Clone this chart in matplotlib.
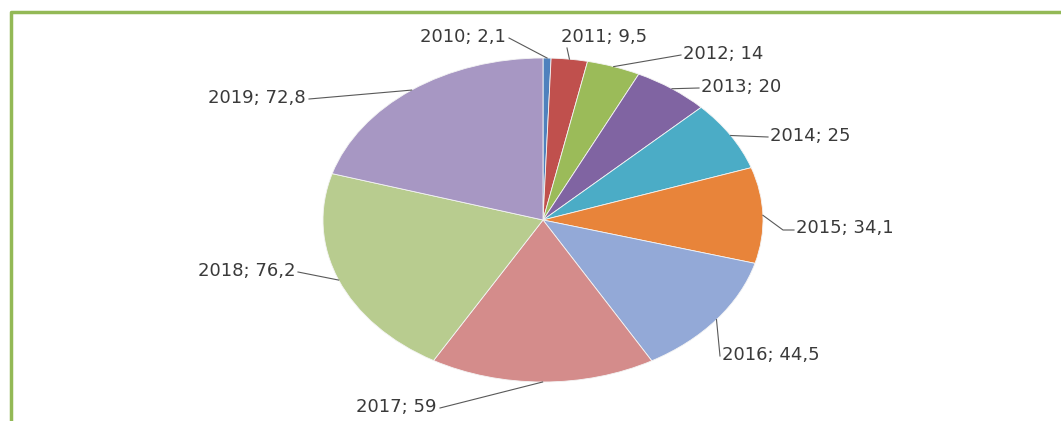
# pie of yearly values, 2010..2019, excel-style oval pie with leader-line labels

import numpy as np
import matplotlib.pyplot as plt
from matplotlib.lines import Line2D

years = ["2010", "2011", "2012", "2013", "2014", "2015", "2016", "2017", "2018", "2019"]
values = [2.1, 9.5, 14, 20, 25, 34.1, 44.5, 59, 76.2, 72.8]
value_text = ["2,1", "9,5", "14", "20", "25", "34,1", "44,5", "59", "76,2", "72,8"]

colors = ["#4f81bd", "#c0504d", "#9bbb59", "#8064a2", "#4bacc6",
          "#e8843a", "#93a9d7", "#d48c8b", "#b8cc8f", "#a797c3"]

W, H = 1061, 421
cx, cy = 543, 220      # pie centre in pixels
rx, ry = 220, 162      # oval radii in pixels

# where each leader line ends (pixels), where the text sits and which side it hangs off
line_px = [(509, 38), (567, 48), (681, 55), (699, 88), (768, 137),
           (794, 230), (720, 356), (440, 408), (298, 272), (309, 99)]
text_px = [(506, 37), (561, 37), (683, 54), (701, 87), (770, 136),
           (796, 228), (722, 355), (437, 407), (295, 271), (306, 98)]
label_ha = ["right", "left", "left", "left", "left", "left", "left", "right", "right", "right"]


def px2data(px, py):
    return (px - cx) / rx, (cy - py) / ry


fig = plt.figure(figsize=(W / 100, H / 100), dpi=100)
ax = fig.add_axes([0, 0, 1, 1])

wedges, _ = ax.pie(values, colors=colors, startangle=90, counterclock=False,
                   wedgeprops=dict(edgecolor="#f4f4f4", linewidth=0.6))
ax.set_aspect("auto")
ax.set_xlim(-cx / rx, (W - cx) / rx)
ax.set_ylim((cy - H) / ry, cy / ry)
ax.axis("off")

for i, w in enumerate(wedges):
    mid = np.deg2rad((w.theta1 + w.theta2) / 2)
    ex, ey = np.cos(mid), np.sin(mid)
    lx, ly = px2data(*line_px[i])
    if i == 5:
        # elbow for 2015
        kx, ky = px2data(783, 230)
        ax.plot([ex, kx, lx], [ey, ky, ly], color="#595959", lw=0.8)
    else:
        ax.plot([ex, lx], [ey, ly], color="#595959", lw=0.8)
    tx, ty = px2data(*text_px[i])
    ax.text(tx, ty, years[i] + "; " + value_text[i], ha=label_ha[i], va="center",
            fontsize=13, color="#3a3a3a", family="DejaVu Sans")

# green frame, only left and top are inside the picture
green = "#93b956"
fig.add_artist(Line2D([10.5 / W, 10.5 / W, 1], [0, 1 - 12 / H, 1 - 12 / H],
                      transform=fig.transFigure, color=green, lw=2.5))

fig.savefig("out.png", dpi=100)
